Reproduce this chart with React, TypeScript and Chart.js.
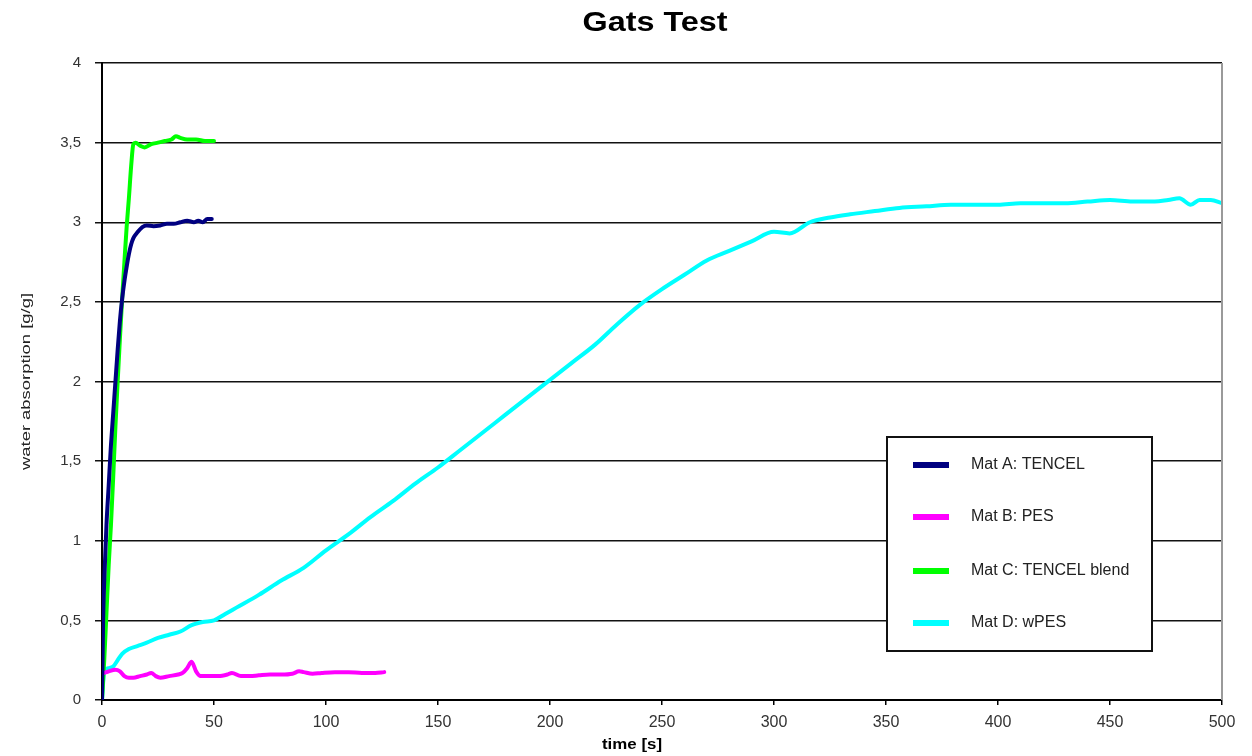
import React, { useEffect, useRef } from "react";
import { Chart, registerables } from "chart.js";

Chart.register(...registerables);

const chartTitle = "Gats Test";
const xTitle = "time [s]";
const yTitle = "water absorption [g/g]";

const seriesNames = ["Mat A: TENCEL", "Mat B: PES", "Mat C: TENCEL blend", "Mat D: wPES"];
const seriesColors = ["#000080", "#FF00FF", "#00FF00", "#00FFFF"];

const matA_t = [0, 0.5, 1, 2, 3, 4, 5, 6, 7, 8, 9, 10, 11, 12, 13, 14, 16, 18, 20, 23, 26, 29, 32, 35, 38, 41, 43, 45, 47, 49];
const matA_v = [0, 0.5, 0.75, 1.1, 1.35, 1.6, 1.8, 2.0, 2.2, 2.38, 2.52, 2.63, 2.72, 2.8, 2.86, 2.9, 2.94, 2.97, 2.98, 2.975, 2.98, 2.99, 2.99, 3.0, 3.01, 3.0, 3.01, 3.0, 3.02, 3.02];

const matB_t = [1, 3, 6, 8, 10, 12, 14, 17, 20, 22, 24, 26, 30, 34, 36, 38, 40, 42, 44, 48, 52, 56, 58, 62, 66, 70, 75, 80, 85, 88, 90, 94, 98, 104, 110, 116, 122, 126];
const matB_v = [0.17, 0.18, 0.19, 0.18, 0.15, 0.14, 0.14, 0.15, 0.16, 0.17, 0.15, 0.14, 0.15, 0.16, 0.17, 0.2, 0.24, 0.18, 0.15, 0.15, 0.15, 0.16, 0.17, 0.15, 0.15, 0.155, 0.16, 0.16, 0.165, 0.18, 0.175, 0.165, 0.17, 0.175, 0.175, 0.17, 0.17, 0.175];

const matC_t = [0, 1, 2, 3, 4, 5, 6, 7, 8, 9, 10, 11, 12, 13, 14, 15, 17, 19, 22, 25, 28, 31, 33, 35, 38, 42, 46, 50];
const matC_v = [0, 0.25, 0.55, 0.85, 1.1, 1.4, 1.72, 2.0, 2.27, 2.52, 2.75, 2.97, 3.15, 3.35, 3.49, 3.5, 3.48, 3.47, 3.49, 3.5, 3.51, 3.52, 3.54, 3.53, 3.52, 3.52, 3.51, 3.51];

const matD_t = [0, 1, 3, 5, 7, 9, 12, 16, 20, 25, 30, 35, 40, 45, 50, 55, 60, 70, 80, 90, 100, 110, 120, 130, 140, 150, 160, 170, 180, 190, 200, 210, 220, 230, 240, 250, 260, 270, 280, 290, 300, 307, 316, 325, 334, 345, 356, 368, 379, 390, 400, 410, 420, 430, 440, 450, 460, 470, 476, 481, 486, 490, 495, 500];
const matD_v = [0, 0.18, 0.2, 0.21, 0.25, 0.29, 0.32, 0.34, 0.36, 0.39, 0.41, 0.43, 0.47, 0.49, 0.5, 0.54, 0.58, 0.66, 0.75, 0.83, 0.94, 1.04, 1.15, 1.25, 1.36, 1.46, 1.57, 1.68, 1.79, 1.9, 2.01, 2.12, 2.23, 2.36, 2.48, 2.58, 2.67, 2.76, 2.82, 2.88, 2.94, 2.93, 3.0, 3.03, 3.05, 3.07, 3.09, 3.1, 3.11, 3.11, 3.11, 3.12, 3.12, 3.12, 3.13, 3.14, 3.13, 3.13, 3.14, 3.15, 3.11, 3.14, 3.14, 3.12];

const xTicks = [0, 50, 100, 150, 200, 250, 300, 350, 400, 450, 500];
const yTicks = [0, 0.5, 1, 1.5, 2, 2.5, 3, 3.5, 4];

const toPoints = (t: number[], v: number[]) => t.map((x, i) => ({ x, y: v[i] }));

const fitText = (ctx: CanvasRenderingContext2D, text: string, x: number, y: number, width: number) => {
  const w = ctx.measureText(text).width;
  ctx.save();
  ctx.translate(x, y);
  ctx.scale(width / w, 1);
  ctx.fillText(text, 0, 0);
  ctx.restore();
};

const decorPlugin = {
  id: "decor",
  afterDraw(chart: any) {
    const ctx: CanvasRenderingContext2D = chart.ctx;
    const { top, bottom, right } = chart.chartArea;
    ctx.save();
    ctx.strokeStyle = "#9a9a9a";
    ctx.lineWidth = 2;
    ctx.beginPath();
    ctx.moveTo(right, top);
    ctx.lineTo(right, bottom);
    ctx.stroke();
    ctx.fillStyle = "#000";
    ctx.textAlign = "center";
    ctx.textBaseline = "middle";
    ctx.font = "bold 27px 'Liberation Sans', Arial, sans-serif";
    fitText(ctx, chartTitle, 655, 24, 145);
    ctx.font = "bold 15px 'Liberation Sans', Arial, sans-serif";
    fitText(ctx, xTitle, 632, 745, 60);
    ctx.font = "13px 'Liberation Sans', Arial, sans-serif";
    ctx.fillStyle = "#222";
    ctx.save();
    ctx.translate(26, (top + bottom) / 2);
    ctx.rotate(-Math.PI / 2);
    fitText(ctx, yTitle, 0, 0, 177);
    ctx.restore();
    const lx = 887, ly = 437, lw = 265, lh = 214;
    ctx.fillStyle = "#fff";
    ctx.fillRect(lx, ly, lw, lh);
    ctx.strokeStyle = "#111";
    ctx.lineWidth = 2;
    ctx.strokeRect(lx, ly, lw, lh);
    const rows = [465, 517, 571, 623];
    ctx.font = "16px 'Liberation Sans', Arial, sans-serif";
    ctx.textAlign = "left";
    ctx.textBaseline = "middle";
    seriesNames.forEach((name, i) => {
      ctx.strokeStyle = seriesColors[i];
      ctx.lineWidth = 6;
      ctx.lineCap = "butt";
      ctx.beginPath();
      ctx.moveTo(913, rows[i]);
      ctx.lineTo(949, rows[i]);
      ctx.stroke();
      ctx.fillStyle = "#222";
      ctx.fillText(name, 971, rows[i]);
    });
    ctx.restore();
  },
};

export default function App() {
  const ref = useRef<HTMLCanvasElement>(null);
  useEffect(() => {
    document.body.style.margin = "0";
    const series = [
      toPoints(matA_t, matA_v),
      toPoints(matB_t, matB_v),
      toPoints(matC_t, matC_v),
      toPoints(matD_t, matD_v),
    ];
    const chart = new Chart(ref.current!, {
      type: "line",
      data: {
        datasets: series.map((d, i) => ({
          label: seriesNames[i],
          data: d,
          borderColor: seriesColors[i],
          backgroundColor: seriesColors[i],
          borderWidth: 4,
          pointRadius: 0,
          cubicInterpolationMode: "monotone" as const,
          borderJoinStyle: "round" as const,
          borderCapStyle: "round" as const,
          fill: false,
        })),
      },
      options: {
        responsive: false,
        animation: false,
        layout: { padding: { top: 63, right: 30, left: 0, bottom: 0 } },
        plugins: { legend: { display: false }, title: { display: false }, tooltip: { enabled: false } },
        scales: {
          x: {
            type: "linear",
            min: 0,
            max: 500,
            afterFit: (s: any) => { s.height = 56; },
            afterBuildTicks: (s: any) => { s.ticks = xTicks.map((v) => ({ value: v })); },
            grid: { display: true, drawOnChartArea: false, drawTicks: true, tickLength: 5, color: "#000", lineWidth: 1.5 },
            border: { display: true, color: "#000", width: 2 },
            ticks: { padding: 8, color: "#333", font: { size: 16, family: "'Liberation Sans', Arial, sans-serif" }, maxRotation: 0, callback: (v: any) => String(v) },
          },
          y: {
            type: "linear",
            min: 0,
            max: 4,
            afterFit: (s: any) => { s.width = 102; },
            afterBuildTicks: (s: any) => { s.ticks = yTicks.map((v) => ({ value: v })); },
            grid: { display: true, drawOnChartArea: true, drawTicks: true, tickLength: 7, color: "#111", lineWidth: 1.5 },
            border: { display: true, color: "#000", width: 2 },
            ticks: { padding: 14, color: "#333", font: { size: 15, family: "'Liberation Sans', Arial, sans-serif" }, callback: (v: any) => String(v).replace(".", ",") },
          },
        },
      },
      plugins: [decorPlugin],
    });
    return () => chart.destroy();
  }, []);
  return (
    <div style={{ position: "fixed", left: 0, top: 0, width: 1252, height: 756, background: "#fff" }}>
      <canvas ref={ref} width={1252} height={756} />
    </div>
  );
}
